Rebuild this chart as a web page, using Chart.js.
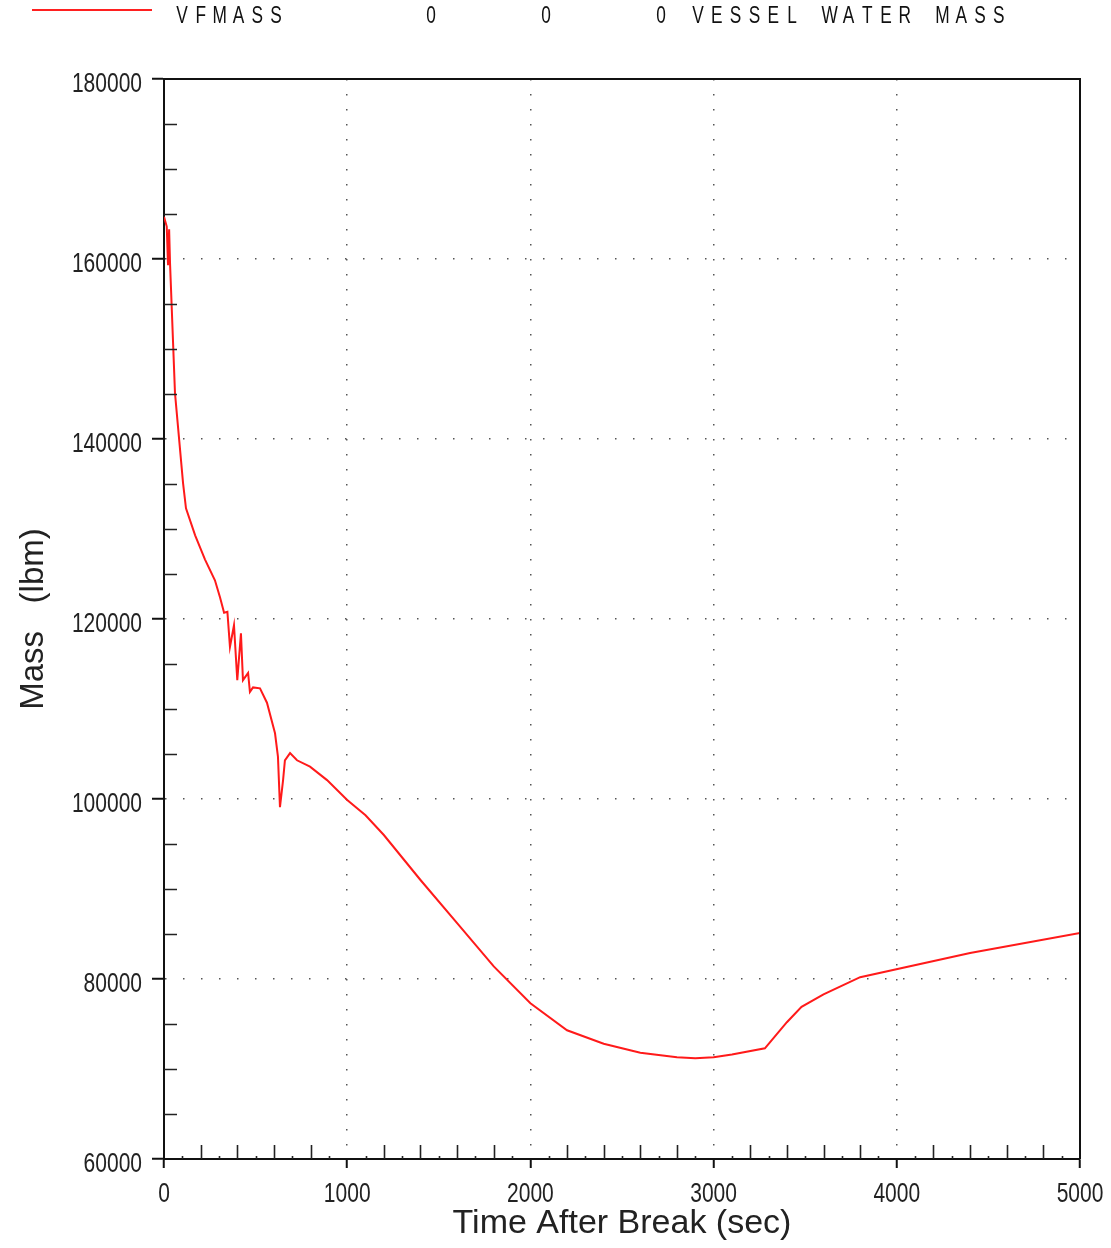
<!DOCTYPE html>
<html>
<head>
<meta charset="utf-8">
<style>
  html, body { margin: 0; padding: 0; background: #fff; }
  #wrap { width: 1111px; height: 1248px; }
</style>
<script src="https://cdn.jsdelivr.net/npm/chart.js@4.4.1/dist/chart.umd.min.js"></script>
</head>
<body>
<div id="wrap"><canvas id="stats" width="1111" height="1248"></canvas></div>
<script>
// time after break (sec) and vessel water mass (lbm)
const times = [0, 15, 22, 28, 33, 60, 104, 120, 170, 224, 278, 306, 328, 346, 360, 382, 400, 420, 431,
  459, 469, 486, 524, 562, 606, 622, 633, 650, 660, 688, 726, 797, 890, 1000, 1100, 1200, 1400, 1600,
  1800, 2000, 2200, 2400, 2600, 2800, 2900, 3000, 3100, 3280, 3400, 3480, 3600, 3800, 4400, 5000];
const mass = [164700, 163600, 159300, 163300, 159500, 145100, 135100, 132300, 129300, 126600, 124300,
  122400, 120700, 120800, 116900, 119300, 113200, 118400, 113200, 114000, 111900, 112400, 112300, 110700,
  107300, 104700, 99100, 102100, 104300, 105100, 104300, 103600, 102100, 99900, 98200, 96000, 91000,
  86200, 81400, 77300, 74300, 72800, 71800, 71300, 71200, 71300, 71600, 72300, 75200, 76900, 78300,
  80200, 82900, 85100];

const xTicks = [0, 1000, 2000, 3000, 4000, 5000];
const yTicks = [60000, 80000, 100000, 120000, 140000, 160000, 180000];
const legendText = [["VFMASS", 176], ["0", 425], ["0", 540], ["0", 655], ["VESSEL WATER MASS", 692]];

const plain = '"Liberation Sans", Arial, sans-serif';

// narrow text: regular face squeezed sideways
function squeezed(ctx, text, x, y, align, sx) {
  ctx.save();
  ctx.translate(x, y);
  ctx.scale(sx, 1);
  ctx.textAlign = align;
  ctx.fillText(text, 0, 0);
  ctx.restore();
}

// header line + label, drawn char by char at a fixed pitch
const header = {
  id: "header",
  afterDraw(chart) {
    const ctx = chart.ctx;
    ctx.save();
    ctx.strokeStyle = "#ff2020";
    ctx.lineWidth = 2;
    ctx.beginPath();
    ctx.moveTo(32, 10);
    ctx.lineTo(152, 10);
    ctx.stroke();
    ctx.fillStyle = "#111";
    ctx.font = "24px " + plain;
    ctx.textBaseline = "alphabetic";
    const pitch = 18.8;
    legendText.forEach(([txt, x0]) => {
      for (let i = 0; i < txt.length; i++) {
        squeezed(ctx, txt[i], x0 + i * pitch + 6, 23, "center", 0.72);
      }
    });
    ctx.restore();
  },
};

// tick labels in a narrow face
const tickLabels = {
  id: "tickLabels",
  afterDraw(chart) {
    const { ctx, scales: { x, y } } = chart;
    ctx.save();
    ctx.fillStyle = "#222";
    ctx.font = "28px " + plain;
    ctx.textBaseline = "alphabetic";
    yTicks.forEach((v) => {
      squeezed(ctx, String(v), 142, y.getPixelForValue(v) + 13, "right", 0.75);
    });
    xTicks.forEach((v) => {
      squeezed(ctx, String(v), x.getPixelForValue(v), 1202, "center", 0.75);
    });
    ctx.restore();
  },
};

// box edges and the minor tick marks
const frame = {
  id: "frame",
  afterDraw(chart) {
    const { ctx, chartArea: a, scales: { x, y } } = chart;
    ctx.save();
    ctx.strokeStyle = "#111";
    ctx.lineWidth = 2;
    ctx.beginPath();
    ctx.moveTo(a.left, a.top);
    ctx.lineTo(a.right, a.top);
    ctx.lineTo(a.right, a.bottom);
    ctx.stroke();

    ctx.lineWidth = 1.6;
    ctx.strokeStyle = "#222";
    ctx.beginPath();
    for (let v = 100; v < 5000; v += 100) {
      if (v % 1000 === 0) continue;
      const px = Math.round(x.getPixelForValue(v)) + 0.5;
      const len = v % 200 === 0 ? 14 : 3;
      ctx.moveTo(px, a.bottom);
      ctx.lineTo(px, a.bottom - len);
    }
    for (let v = 65000; v < 180000; v += 5000) {
      if (v % 20000 === 0) continue;
      const py = Math.round(y.getPixelForValue(v)) + 0.5;
      ctx.moveTo(a.left, py);
      ctx.lineTo(a.left + 13, py);
    }
    ctx.stroke();
    ctx.restore();
  },
};

const gridColor = (edge) => (c) =>
  c.tick && edge.includes(c.tick.value) ? "rgba(0,0,0,0)" : "#555";

const ctx = document.getElementById("stats").getContext("2d");
new Chart(ctx, {
  type: "line",
  data: {
    datasets: [{
      label: "VFMASS",
      data: times.map((t, i) => ({ x: t, y: mass[i] })),
      borderColor: "#ff1a1a",
      borderWidth: 2,
      pointRadius: 0,
      tension: 0,
      fill: false,
    }],
  },
  options: {
    responsive: false,
    animation: false,
    devicePixelRatio: 1,
    layout: { padding: { left: 0, top: 79, right: 31, bottom: 0 } },
    scales: {
      x: {
        type: "linear",
        min: 0,
        max: 5000,
        afterBuildTicks: (s) => { s.ticks = xTicks.map((v) => ({ value: v })); },
        afterFit: (s) => { s.height = 89; },
        grid: {
          color: gridColor([0, 5000]),
          lineWidth: 1.5,
          tickLength: 9,
          tickColor: "#111",
          tickWidth: 2,
        },
        border: { display: true, color: "#111", width: 2, dash: [1.5, 13.5] },
        ticks: { display: false },
        title: {
          display: true,
          text: "Time After Break (sec)",
          color: "#222",
          font: { family: plain, size: 34, lineHeight: 1 },
          padding: { top: 0, bottom: 7 },
        },
      },
      y: {
        type: "linear",
        min: 60000,
        max: 180000,
        afterBuildTicks: (s) => { s.ticks = yTicks.map((v) => ({ value: v })); },
        afterFit: (s) => { s.width = 164; },
        grid: {
          color: gridColor([60000, 180000]),
          lineWidth: 1.5,
          tickLength: 12,
          tickColor: "#111",
          tickWidth: 2,
        },
        border: { display: true, color: "#111", width: 2, dash: [1.5, 16.5] },
        ticks: { display: false },
        title: {
          display: true,
          text: "Mass   (lbm)",
          color: "#222",
          font: { family: plain, size: 33, lineHeight: 1 },
          padding: { top: 17, bottom: 0 },
        },
      },
    },
    plugins: {
      legend: { display: false },
      tooltip: { enabled: false },
    },
  },
  plugins: [header, tickLabels, frame],
});
</script>
</body>
</html>
